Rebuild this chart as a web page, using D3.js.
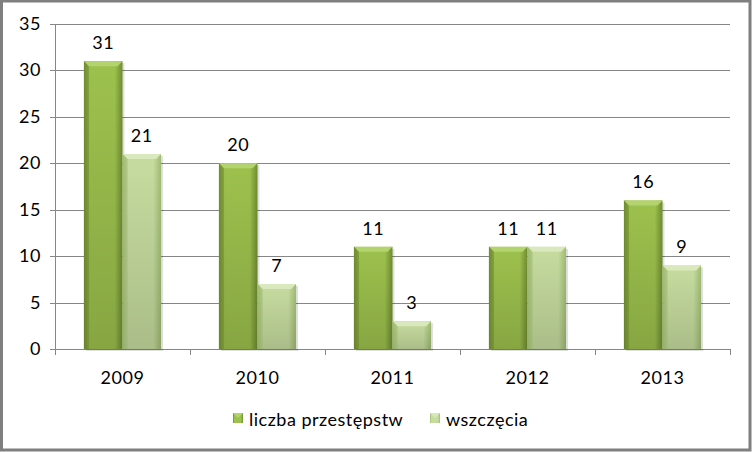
<!DOCTYPE html>
<html><head><meta charset="utf-8">
<script src="https://cdn.jsdelivr.net/npm/d3@7"></script>
<style>html,body{margin:0;padding:0;background:#fff;}svg{display:block;}text{letter-spacing:0.5px;}</style>
</head><body>
<svg id="c" width="753" height="452"></svg>
<script>
const years = ["2009","2010","2011","2012","2013"];
const seriesNames = ["liczba przestępstw","wszczęcia"];
const przestepstwa = [31,20,11,11,16];
const wszczecia = [21,7,3,11,9];
const yTicks = [0,5,10,15,20,25,30,35];

const svg = d3.select("#c");
const font = "Lato, 'Open Sans', sans-serif";
const fs = 18;
const W=753,H=452;
const m = {l:55, r:23, t:24, b:103};

// frame
svg.append("rect").attr("x",1.5).attr("y",1).attr("width",W-4.5).attr("height",H-3)
  .attr("fill","#fff").attr("stroke","#7f7f7f").attr("stroke-width",3);

const x = d3.scaleBand().domain(years).range([m.l, W-m.r]).paddingInner(0).paddingOuter(0);
const y = d3.scaleLinear().domain([0,35]).range([H-m.b, m.t]);
const xs = d3.scaleBand().domain([0,1]).range([0, x.bandwidth()]).paddingInner(0).paddingOuter(0.75);

const defs = svg.append("defs");
const pal = [
  {side:"#6f8c30", mid:"#9dc14d", top:"#b3d36e"},
  {side:"#a0bb72", mid:"#c6dc9f", top:"#d9e9bd"}
];
pal.forEach((p,i)=>{
  const g = defs.append("linearGradient").attr("id","g"+i).attr("x1","0").attr("x2","1").attr("y1","0").attr("y2","0");
  g.append("stop").attr("offset","0%").attr("stop-color",p.side);
  g.append("stop").attr("offset","15%").attr("stop-color",p.mid);
  g.append("stop").attr("offset","80%").attr("stop-color",p.mid);
  g.append("stop").attr("offset","100%").attr("stop-color",p.side);
  const v = defs.append("linearGradient").attr("id","v"+i).attr("x1","0").attr("x2","0").attr("y1","0").attr("y2","1");
  v.append("stop").attr("offset","0%").attr("stop-color","#000").attr("stop-opacity",0);
  v.append("stop").attr("offset","100%").attr("stop-color","#000").attr("stop-opacity",0.14);
});

// gridlines
svg.append("g").selectAll("line").data(yTicks).join("line")
  .attr("x1",m.l-5).attr("x2",W-m.r).attr("y1",d=>Math.round(y(d))+0.5).attr("y2",d=>Math.round(y(d))+0.5)
  .attr("stroke","#868686").attr("stroke-width",1);
// y axis
svg.append("line").attr("x1",m.l+0.5).attr("x2",m.l+0.5).attr("y1",y(35)).attr("y2",y(0))
  .attr("stroke","#868686");
svg.append("g").selectAll("text").data(yTicks).join("text")
  .attr("x",m.l-14).attr("y",d=>y(d)+6).attr("text-anchor","end")
  .attr("font-family",font).attr("font-size",fs).attr("fill","#000").text(d=>d);
// x ticks
const bounds = years.map(d=>x(d)).concat([W-m.r]);
svg.append("g").selectAll("line").data(bounds).join("line")
  .attr("x1",d=>Math.round(d)+0.5).attr("x2",d=>Math.round(d)+0.5).attr("y1",y(0)).attr("y2",y(0)+6)
  .attr("stroke","#868686");
svg.append("g").selectAll("text").data(years).join("text")
  .attr("x",d=>x(d)+x.bandwidth()/2).attr("y",y(0)+35).attr("text-anchor","middle")
  .attr("font-family",font).attr("font-size",fs).attr("fill","#000").text(d=>d);

const data = [przestepstwa, wszczecia];
data.forEach((vals,si)=>{
  const g = svg.append("g");
  years.forEach((yr,i)=>{
    const bx = x(yr)+xs(si), bw = xs.bandwidth();
    const by = y(vals[i]), bh = y(0)-y(vals[i]);
    g.append("rect").attr("x",bx+2).attr("y",by+2).attr("width",bw).attr("height",bh)
      .attr("fill","#000").attr("opacity",0.12);
    g.append("rect").attr("x",bx).attr("y",by).attr("width",bw).attr("height",bh).attr("fill","url(#g"+si+")");
    g.append("rect").attr("x",bx).attr("y",by).attr("width",bw).attr("height",bh).attr("fill","url(#v"+si+")");
    const bv = Math.min(5,bh/2);
    g.append("polygon").attr("points",[[bx,by],[bx+bw,by],[bx+bw-bv,by+bv],[bx+bv,by+bv]].map(p=>p.join(",")).join(" "))
      .attr("fill",pal[si].top);
    g.append("polygon").attr("points",[[bx,by],[bx+bv,by+bv],[bx+bv,by+bh],[bx,by+bh]].map(p=>p.join(",")).join(" "))
      .attr("fill",pal[si].side).attr("opacity",0.5);
    g.append("text").attr("x",bx+bw/2).attr("y",by-12).attr("text-anchor","middle")
      .attr("font-family",font).attr("font-size",fs).attr("fill","#000").text(vals[i]);
  });
});

// legend
const leg = [{x:233,tx:249},{x:430,tx:446}];
seriesNames.forEach((n,i)=>{
  svg.append("rect").attr("x",leg[i].x).attr("y",413).attr("width",10).attr("height",10).attr("fill","url(#g"+i+")");
  svg.append("polygon").attr("points",`${leg[i].x},413 ${leg[i].x+10},413 ${leg[i].x+5},418`).attr("fill",pal[i].top);
  svg.append("text").attr("x",leg[i].tx).attr("y",426).attr("font-family",font).attr("font-size",fs)
    .attr("fill","#000").text(n);
});
</script>
</body></html>
